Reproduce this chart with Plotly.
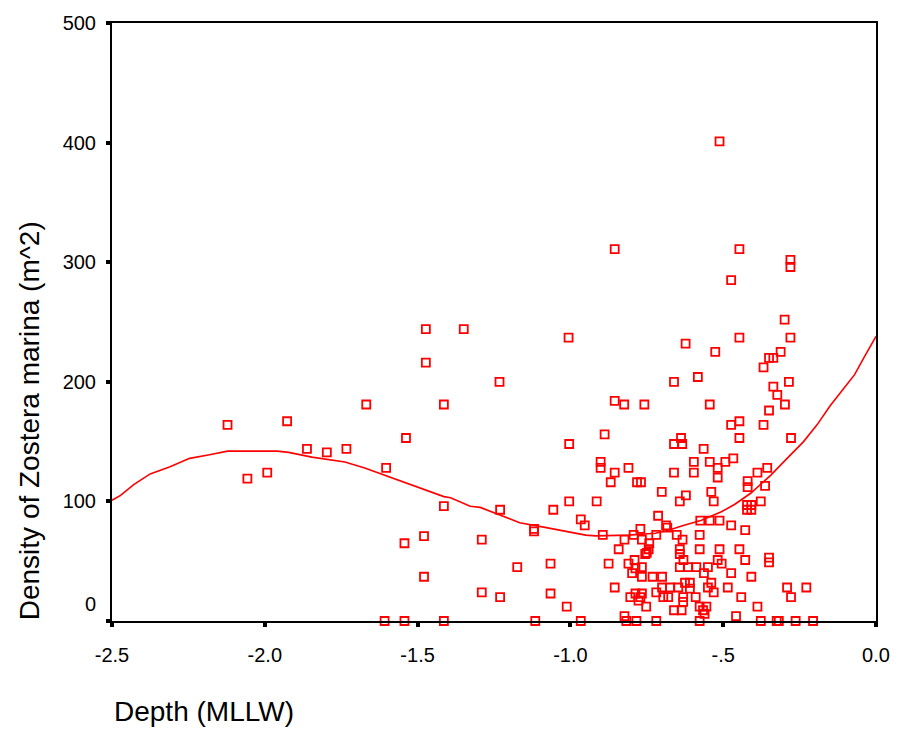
import plotly.graph_objects as go

# Scatter data: depth (MLLW) and density of Zostera marina
depth = [
    -2.122, -1.927, -1.668, -1.414, -1.862, -1.797, -1.733, -1.538, -2.057, -1.992,
    -1.603, -1.414, -1.230, -1.543, -1.479, -1.290, -1.479, -1.290, -1.230, -1.232,
    -1.608, -1.543, -1.414, -1.473, -1.349, -1.006, -1.473, -1.004,
    -0.512, -0.855, -0.447, -0.280, -0.280, -0.474, -0.299, -0.447, -0.280, -0.623,
    -0.526, -0.312,
    -0.350, -0.336, -0.368, -0.661, -0.583, -0.285, -0.336, -0.323, -0.298, -0.855,
    -0.824, -0.758, -0.544, -0.350, -0.888, -0.474, -0.447, -0.368, -0.447, -0.278,
    -0.661, -0.638, -0.634, -0.564, -0.901, -0.901, -0.855, -0.810, -0.661, -0.596,
    -0.596, -0.544, -0.518, -0.493, -0.467, -0.518, -0.388, -0.356, -0.868, -0.782,
    -0.769, -0.420, -0.420, -0.363, -0.701, -0.539, -0.622, -0.642, -0.531, -0.422,
    -0.408, -0.422, -0.408, -0.377, -1.004, -0.914, -1.056, -0.713, -0.966, -0.953,
    -1.119, -1.119, -0.575, -0.544, -0.512, -0.687, -0.683, -0.474, -0.428, -0.771,
    -0.894, -0.823, -0.793, -0.766, -0.719, -0.652, -0.633, -0.577, -0.742, -0.842,
    -0.744, -0.750, -0.755, -0.642, -0.642, -0.577, -0.512, -0.447, -1.065, -1.174,
    -0.875, -0.810, -0.790, -0.787, -0.798, -0.766, -0.766, -0.731, -0.700, -0.630,
    -0.642, -0.615, -0.588, -0.550, -0.563, -0.518, -0.505, -0.474, -0.428, -0.350,
    -0.350, -0.408, -0.855, -0.700, -0.674, -0.647, -0.625, -0.609, -0.609, -0.550,
    -0.539, -0.485, -0.291, -0.228, -1.065, -0.804, -0.787, -0.771, -0.777, -0.766,
    -0.719, -0.696, -0.680, -0.631, -0.631, -0.590, -0.531, -0.441, -0.278, -1.012,
    -0.752, -0.661, -0.636, -0.577, -0.555, -0.566, -0.561, -0.388, -0.458, -0.823,
    -1.115, -0.966, -0.817, -0.784, -0.719, -0.577, -0.377, -0.325, -0.318, -0.263,
    -0.206,
]
density = [
    164, 167, 181, 181, 144, 141, 144, 153, 119, 124,
    128, 96, 93, 65, 71, 68, 37, 24, 20, 200,
    0, 0, 0, 244, 244, 237, 216, 148,
    401, 311, 311, 302, 296, 285, 252, 237, 237, 232,
    225, 225,
    220, 220, 212, 200, 204, 200, 196, 189, 181, 184,
    181, 181, 181, 176, 156, 164, 167, 164, 153, 153,
    148, 153, 148, 144, 133, 128, 124, 128, 124, 133,
    124, 133, 128, 133, 136, 120, 124, 128, 116, 116,
    116, 117, 112, 113, 108, 108, 105, 100, 100, 97,
    97, 93, 93, 100, 100, 100, 93, 88, 85, 80,
    77, 75, 84, 84, 84, 80, 78, 80, 76, 77,
    72, 68, 72, 68, 72, 72, 68, 72, 65, 60,
    60, 57, 56, 60, 56, 60, 60, 60, 48, 45,
    48, 48, 51, 44, 40, 45, 37, 37, 37, 51,
    45, 45, 45, 45, 40, 51, 48, 40, 51, 53,
    49, 37, 28, 28, 28, 28, 32, 32, 27, 28,
    32, 28, 28, 28, 23, 20, 23, 20, 17, 23,
    24, 20, 20, 20, 16, 20, 24, 20, 20, 12,
    12, 9, 9, 12, 12, 9, 6, 12, 4, 4,
    0, 0, 0, 0, 0, 0, 0, 0, 0, 0,
    0,
]

# Smoothed fit line
fit_x = [-2.5, -2.472, -2.429, -2.375, -2.31, -2.246, -2.181, -2.122, -1.96, -1.922,
         -1.846, -1.738, -1.673, -1.608, -1.543, -1.511, -1.414, -1.392, -1.328, -1.295,
         -1.241, -1.209, -1.166, -1.079, -0.95, -0.917, -0.809, -0.722, -0.679, -0.636,
         -0.571, -0.506, -0.463, -0.409, -0.344, -0.291, -0.237, -0.193, -0.15, -0.107,
         -0.07, -0.04, 0.0]
fit_y = [101, 105, 114, 123, 129, 136, 139, 142, 142, 141,
         137, 133, 128, 122, 116, 113, 104, 103, 96, 95,
         89.5, 86.4, 82.2, 78.1, 71.8, 71.2, 71.8, 73.4, 75.9, 79.5,
         84.2, 91.3, 97.4, 107, 122, 136, 150, 164, 180, 194,
         206, 220, 238]

x_tickvals = [-2.5, -2.0, -1.5, -1.0, -0.5, 0.0]
x_ticktext = ["-2.5", "-2.0", "-1.5", "-1.0", "-.5", "0.0"]
y_tickvals = [0, 100, 200, 300, 400, 500]
y_ticktext = ["", "100", "200", "300", "400", "500"]

FONT = "Liberation Sans, Arial, sans-serif"
RED = "#ff0000"

fig = go.Figure()
fig.add_trace(go.Scatter(
    x=fit_x, y=fit_y, mode="lines",
    line=dict(color=RED, width=1.6),
    hoverinfo="skip", showlegend=False,
))
fig.add_trace(go.Scatter(
    x=depth, y=density, mode="markers",
    marker=dict(symbol="square-open", size=8, color=RED, line=dict(width=1.8, color=RED)),
    cliponaxis=False, showlegend=False,
))

axis_common = dict(
    showgrid=False, zeroline=False,
    showline=True, linecolor="black", linewidth=2, mirror=True,
    ticks="outside", ticklen=4, tickwidth=4, tickcolor="black",
    tickfont=dict(family=FONT, size=20, color="black"),
    layer="above traces",
)

fig.update_layout(
    width=902, height=732,
    margin=dict(l=112, r=19, t=17, b=111),
    paper_bgcolor="white", plot_bgcolor="white",
    showlegend=False,
    xaxis=dict(range=[-2.5, 0.0], tickvals=x_tickvals, ticktext=x_ticktext,
               ticklabelstandoff=11, **axis_common),
    yaxis=dict(range=[0, 500], tickvals=y_tickvals, ticktext=y_ticktext,
               ticklabelstandoff=6, **axis_common),
    annotations=[
        dict(text="0", xref="paper", yref="y", x=-0.018, y=14,
             xanchor="right", yanchor="middle", showarrow=False,
             font=dict(family=FONT, size=20, color="black")),
        dict(text="Density of Zostera marina (m^2)", xref="paper", yref="paper",
             x=(29 - 112) / 771, y=(621 - 418.5) / 604, xanchor="center", yanchor="middle",
             textangle=-90, showarrow=False,
             font=dict(family=FONT, size=28, color="black")),
        dict(text="Depth (MLLW)", xref="paper", yref="paper",
             x=0.0, y=(621 - 712) / 604, xanchor="left", yanchor="middle",
             showarrow=False,
             font=dict(family=FONT, size=28, color="black")),
    ],
)

fig.write_html("out.html")
